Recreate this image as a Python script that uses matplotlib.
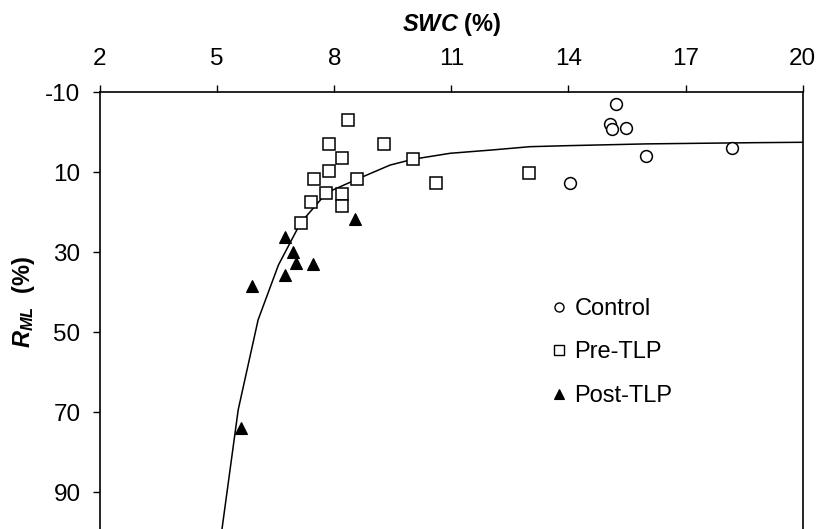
import matplotlib
matplotlib.use("Agg")
import matplotlib.pyplot as plt
from matplotlib.lines import Line2D

plt.rcParams['font.family'] = ['Liberation Sans', 'DejaVu Sans']
plt.rcParams['mathtext.fontset'] = 'custom'
plt.rcParams['mathtext.it'] = 'Liberation Sans:bold:italic'
plt.rcParams['mathtext.rm'] = 'Liberation Sans:bold'
plt.rcParams['mathtext.bf'] = 'Liberation Sans:bold'
plt.rcParams['axes.unicode_minus'] = False

# Data
control_swc = [15.21, 15.06, 15.11, 15.47, 15.99, 18.20, 14.04]
control_rml = [-7.0, -2.1, -0.75, -1.15, 5.9, 4.0, 12.75]

pre_swc = [8.34, 7.87, 9.27, 8.19, 7.87, 7.49, 8.58, 7.79, 8.19, 7.40, 8.19, 7.14, 10.01, 10.61, 13.0]
pre_rml = [-3.1, 2.9, 2.9, 6.35, 9.7, 11.7, 11.7, 15.1, 15.4, 17.35, 18.4, 22.6, 6.75, 12.75, 10.1]

post_swc = [6.75, 6.95, 7.02, 7.45, 6.75, 5.89, 5.62, 8.53]
post_rml = [26.25, 30.0, 32.6, 32.9, 35.7, 38.4, 73.9, 21.7]

fit_swc = [5.10, 5.54, 6.05, 6.57, 7.14, 7.81, 8.58, 9.43, 10.01, 10.97, 12.07, 13.01, 13.95, 16.0, 18.73, 20.0]
fit_rml = [101.0, 69.4, 46.9, 33.2, 22.6, 15.1, 11.75, 8.2, 6.75, 5.25, 4.4, 3.6, 3.35, 2.9, 2.6, 2.5]

x_ticks = [2, 5, 8, 11, 14, 17, 20]
y_ticks = [-10, 10, 30, 50, 70, 90]

fig = plt.figure(figsize=(8.16, 5.29), dpi=100)
ax = fig.add_axes([100 / 816, 0.0, (802.7 - 100) / 816, (529 - 92.3) / 529])

ax.plot(fit_swc, fit_rml, color='black', lw=1.1, zorder=2)
ax.plot(control_swc, control_rml, ls='none', marker='o', ms=8.5, mfc='white', mec='black', mew=1.1, zorder=3)
ax.plot(pre_swc, pre_rml, ls='none', marker='s', ms=8.0, mfc='white', mec='black', mew=1.1, zorder=3)
ax.plot(post_swc, post_rml, ls='none', marker='^', ms=8.0, mfc='black', mec='black', mew=0.8, zorder=3)

ax.set_xlim(2, 20)
ax.set_ylim(99.2, -10)
ax.set_xticks(x_ticks)
ax.set_yticks(y_ticks)
ax.xaxis.tick_top()
ax.xaxis.set_label_position('top')
ax.tick_params(axis='both', direction='out', length=5, width=1.0, labelsize=17.5, colors='black')
ax.tick_params(axis='x', pad=11)
ax.tick_params(axis='y', pad=9)
for s in ['top', 'left', 'right']:
    ax.spines[s].set_linewidth(1.2)
ax.spines['bottom'].set_visible(False)

ax.set_xlabel(r'$SWC$ (%)', fontsize=17, fontweight='bold', labelpad=12)
ax.set_ylabel(r'$R_{ML}$  (%)', fontsize=17, fontweight='bold')
ax.yaxis.set_label_coords(-0.090, 0.521)

handles = [
    Line2D([], [], ls='none', marker='o', ms=6.5, mfc='white', mec='black', mew=1.0),
    Line2D([], [], ls='none', marker='s', ms=6.5, mfc='white', mec='black', mew=1.0),
    Line2D([], [], ls='none', marker='^', ms=6.5, mfc='black', mec='black', mew=0.8),
]
ax.legend(handles, ['Control', 'Pre-TLP', 'Post-TLP'], loc='upper left',
          bbox_to_anchor=((538 - 100) / 702.7, (529 - 286) / 436.7), frameon=False,
          fontsize=17, handlelength=0.8, handletextpad=0.25, labelspacing=0.91, borderpad=0)

fig.savefig('out.png', dpi=100)
